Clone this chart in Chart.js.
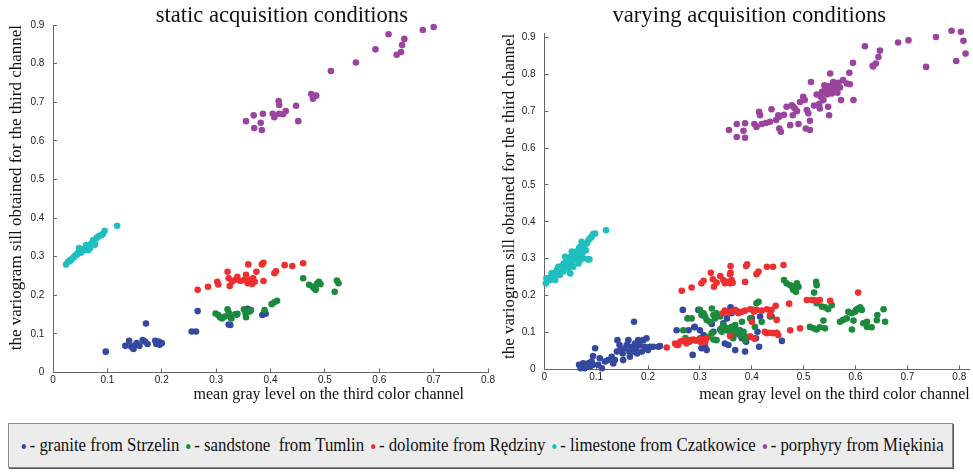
<!DOCTYPE html>
<html>
<head>
<meta charset="utf-8">
<script src="https://cdn.jsdelivr.net/npm/chart.js@4.4.1/dist/chart.umd.min.js"></script>
<style>
  body { margin: 0; background: #fff; width: 973px; height: 475px; position: relative; overflow: hidden; }
  canvas { position: absolute; top: 0; }
  #cLeft { left: 0; }
  #cRight { left: 495px; }
  #legend {
    position: absolute; left: 8px; top: 423px; width: 945px; height: 45px;
    box-sizing: border-box; background: #ececec; border: 1px solid #8a8a8a;
    box-shadow: 1px 1px 0 #555; overflow: hidden;
    font-family: "Liberation Serif", "Times New Roman", Times, "DejaVu Serif", serif;
    font-size: 19px; color: #111; white-space: pre;
  }
  #legend .row { position: absolute; left: 10px; top: 10px; transform-origin: left center; }
  #legend .dot { display: inline-block; width: 5px; height: 5px; border-radius: 50%; margin: 0 4px 0 3px; vertical-align: middle; }
</style>
</head>
<body>
<canvas id="cLeft" width="501" height="410"></canvas>
<canvas id="cRight" width="478" height="410"></canvas>
<div id="legend"><div class="row"></div></div>
<script>
// categorias e cores
const categories = ['granite from Strzelin', 'sandstone  from Tumlin', 'dolomite from Rędziny', 'limestone from Czatkowice', 'porphyry from Miękinia'];
const colors = ['#3548a0', '#1b8a3c', '#ee2f2f', '#20bfbf', '#9b449f'];

const xTicks = [0, 0.1, 0.2, 0.3, 0.4, 0.5, 0.6, 0.7, 0.8];
const yTicks = [0, 0.1, 0.2, 0.3, 0.4, 0.5, 0.6, 0.7, 0.8, 0.9];

// static acquisition conditions: [x, y]
const staticGranite = [[0.097,0.054],[0.133,0.069],[0.140,0.082],[0.144,0.067],[0.148,0.061],[0.150,0.070],[0.154,0.076],[0.159,0.069],[0.165,0.084],[0.169,0.080],[0.171,0.127],[0.174,0.074],[0.188,0.082],[0.190,0.074],[0.194,0.080],[0.196,0.072],[0.198,0.077],[0.200,0.076],[0.255,0.106],[0.263,0.106],[0.266,0.159],[0.323,0.124],[0.326,0.123],[0.338,0.150],[0.358,0.165],[0.385,0.149],[0.389,0.155],[0.391,0.152]];
const staticSandstone = [[0.299,0.153],[0.304,0.149],[0.307,0.143],[0.311,0.140],[0.316,0.145],[0.321,0.164],[0.323,0.155],[0.326,0.146],[0.328,0.140],[0.335,0.151],[0.339,0.152],[0.351,0.164],[0.354,0.153],[0.355,0.143],[0.362,0.158],[0.364,0.162],[0.389,0.162],[0.402,0.177],[0.407,0.182],[0.412,0.186],[0.460,0.244],[0.471,0.227],[0.478,0.222],[0.480,0.218],[0.483,0.224],[0.483,0.214],[0.486,0.231],[0.489,0.235],[0.492,0.229],[0.518,0.209],[0.522,0.238],[0.525,0.231]];
const staticDolomite = [[0.266,0.214],[0.285,0.222],[0.302,0.235],[0.304,0.228],[0.321,0.261],[0.323,0.244],[0.325,0.224],[0.329,0.235],[0.335,0.240],[0.339,0.248],[0.345,0.237],[0.352,0.240],[0.355,0.253],[0.358,0.231],[0.359,0.280],[0.362,0.238],[0.364,0.241],[0.366,0.229],[0.368,0.244],[0.371,0.235],[0.374,0.261],[0.384,0.280],[0.387,0.284],[0.387,0.237],[0.407,0.257],[0.410,0.262],[0.426,0.278],[0.440,0.276],[0.460,0.283]];
const staticLimestone = [[0.024,0.280],[0.028,0.287],[0.030,0.289],[0.033,0.291],[0.036,0.296],[0.039,0.300],[0.042,0.304],[0.044,0.305],[0.045,0.309],[0.048,0.312],[0.048,0.322],[0.051,0.310],[0.052,0.313],[0.055,0.316],[0.057,0.319],[0.058,0.321],[0.061,0.330],[0.062,0.319],[0.065,0.317],[0.066,0.325],[0.068,0.322],[0.070,0.333],[0.072,0.336],[0.074,0.343],[0.076,0.335],[0.077,0.331],[0.080,0.348],[0.083,0.352],[0.086,0.354],[0.089,0.356],[0.092,0.359],[0.095,0.367],[0.118,0.380]];
const staticPorphyry = [[0.355,0.651],[0.369,0.666],[0.370,0.633],[0.386,0.670],[0.382,0.647],[0.384,0.628],[0.404,0.670],[0.407,0.661],[0.415,0.703],[0.416,0.693],[0.416,0.670],[0.423,0.669],[0.428,0.677],[0.447,0.691],[0.451,0.651],[0.475,0.721],[0.478,0.709],[0.480,0.715],[0.484,0.717],[0.511,0.781],[0.557,0.803],[0.593,0.837],[0.617,0.876],[0.632,0.823],[0.640,0.830],[0.642,0.848],[0.646,0.864],[0.680,0.887],[0.700,0.895]];

// varying acquisition conditions: [x, y]
const varyingGranite = [[0.067,0.012],[0.072,0.007],[0.075,0.016],[0.070,0.003],[0.078,0.003],[0.082,0.012],[0.085,0.016],[0.088,0.007],[0.091,0.021],[0.094,0.012],[0.098,0.057],[0.094,0.036],[0.104,0.012],[0.107,0.030],[0.111,0.003],[0.117,0.021],[0.123,0.025],[0.130,0.034],[0.133,0.016],[0.136,0.025],[0.140,0.048],[0.141,0.079],[0.145,0.066],[0.147,0.052],[0.151,0.043],[0.152,0.025],[0.156,0.057],[0.159,0.066],[0.162,0.079],[0.164,0.048],[0.165,0.034],[0.168,0.061],[0.172,0.048],[0.173,0.129],[0.175,0.070],[0.177,0.057],[0.179,0.043],[0.181,0.079],[0.184,0.066],[0.188,0.048],[0.191,0.079],[0.194,0.061],[0.197,0.084],[0.200,0.052],[0.204,0.061],[0.210,0.061],[0.220,0.061],[0.223,0.063],[0.255,0.106],[0.267,0.161],[0.278,0.106],[0.286,0.039],[0.289,0.114],[0.290,0.115],[0.297,0.161],[0.300,0.106],[0.303,0.057],[0.307,0.093],[0.307,0.079],[0.310,0.061],[0.313,0.052],[0.323,0.123],[0.326,0.102],[0.332,0.147],[0.342,0.111],[0.345,0.125],[0.348,0.070],[0.352,0.138],[0.355,0.066],[0.359,0.168],[0.361,0.152],[0.364,0.088],[0.368,0.052],[0.371,0.098],[0.374,0.156],[0.377,0.106],[0.381,0.084],[0.387,0.048],[0.389,0.075],[0.397,0.089],[0.400,0.138],[0.408,0.084],[0.411,0.102],[0.414,0.061],[0.416,0.143],[0.438,0.144],[0.458,0.077]];
const varyingSandstone = [[0.268,0.106],[0.272,0.085],[0.276,0.138],[0.280,0.075],[0.284,0.138],[0.300,0.161],[0.303,0.147],[0.307,0.152],[0.310,0.143],[0.313,0.134],[0.316,0.088],[0.319,0.129],[0.323,0.165],[0.323,0.098],[0.326,0.147],[0.326,0.081],[0.329,0.138],[0.332,0.152],[0.332,0.079],[0.339,0.143],[0.339,0.108],[0.342,0.102],[0.345,0.120],[0.348,0.114],[0.352,0.106],[0.355,0.111],[0.358,0.102],[0.361,0.115],[0.364,0.108],[0.364,0.084],[0.368,0.120],[0.371,0.098],[0.374,0.106],[0.377,0.093],[0.381,0.129],[0.384,0.102],[0.387,0.079],[0.390,0.088],[0.397,0.138],[0.403,0.161],[0.406,0.115],[0.409,0.179],[0.413,0.183],[0.419,0.129],[0.435,0.143],[0.462,0.242],[0.467,0.233],[0.474,0.228],[0.479,0.220],[0.480,0.215],[0.483,0.226],[0.485,0.210],[0.487,0.233],[0.490,0.224],[0.512,0.115],[0.519,0.111],[0.519,0.188],[0.520,0.208],[0.524,0.237],[0.525,0.228],[0.525,0.179],[0.525,0.108],[0.531,0.114],[0.535,0.170],[0.538,0.132],[0.541,0.168],[0.541,0.111],[0.547,0.163],[0.554,0.174],[0.570,0.129],[0.576,0.134],[0.583,0.138],[0.586,0.156],[0.593,0.152],[0.593,0.108],[0.596,0.132],[0.599,0.156],[0.601,0.161],[0.605,0.165],[0.609,0.168],[0.612,0.161],[0.615,0.125],[0.622,0.129],[0.622,0.115],[0.631,0.114],[0.641,0.133],[0.642,0.147],[0.654,0.163],[0.657,0.129]];
const varyingDolomite = [[0.236,0.059],[0.252,0.070],[0.255,0.066],[0.258,0.066],[0.262,0.075],[0.265,0.213],[0.268,0.078],[0.271,0.079],[0.274,0.075],[0.274,0.070],[0.278,0.078],[0.281,0.079],[0.284,0.222],[0.287,0.081],[0.291,0.078],[0.294,0.078],[0.297,0.079],[0.300,0.084],[0.303,0.072],[0.303,0.233],[0.307,0.079],[0.307,0.240],[0.310,0.075],[0.313,0.084],[0.321,0.262],[0.325,0.244],[0.327,0.224],[0.332,0.235],[0.339,0.253],[0.344,0.152],[0.345,0.242],[0.348,0.233],[0.348,0.159],[0.353,0.237],[0.353,0.156],[0.358,0.258],[0.358,0.233],[0.358,0.090],[0.359,0.280],[0.359,0.262],[0.361,0.242],[0.361,0.156],[0.363,0.235],[0.368,0.161],[0.374,0.152],[0.381,0.156],[0.387,0.237],[0.387,0.159],[0.389,0.280],[0.391,0.285],[0.397,0.163],[0.397,0.088],[0.400,0.129],[0.404,0.156],[0.405,0.083],[0.409,0.258],[0.409,0.161],[0.413,0.265],[0.419,0.159],[0.425,0.102],[0.429,0.278],[0.429,0.163],[0.429,0.098],[0.435,0.147],[0.435,0.099],[0.438,0.161],[0.441,0.278],[0.441,0.098],[0.446,0.172],[0.448,0.134],[0.448,0.099],[0.451,0.093],[0.461,0.283],[0.472,0.178],[0.474,0.106],[0.493,0.111],[0.506,0.188],[0.515,0.188],[0.525,0.186],[0.531,0.188],[0.551,0.186],[0.605,0.208]];
const varyingLimestone = [[0.003,0.233],[0.004,0.247],[0.008,0.247],[0.011,0.242],[0.014,0.251],[0.014,0.260],[0.017,0.260],[0.021,0.256],[0.021,0.242],[0.024,0.269],[0.027,0.265],[0.027,0.278],[0.030,0.278],[0.030,0.256],[0.034,0.274],[0.037,0.287],[0.037,0.265],[0.038,0.269],[0.040,0.305],[0.042,0.292],[0.043,0.278],[0.046,0.296],[0.046,0.274],[0.048,0.283],[0.050,0.260],[0.051,0.305],[0.053,0.289],[0.053,0.319],[0.056,0.314],[0.056,0.296],[0.056,0.278],[0.059,0.301],[0.062,0.319],[0.062,0.298],[0.066,0.310],[0.066,0.287],[0.067,0.328],[0.069,0.296],[0.069,0.332],[0.072,0.305],[0.072,0.346],[0.074,0.332],[0.075,0.319],[0.075,0.301],[0.078,0.337],[0.080,0.323],[0.082,0.341],[0.084,0.298],[0.085,0.350],[0.087,0.298],[0.088,0.355],[0.091,0.359],[0.094,0.367],[0.098,0.368],[0.119,0.377]];
const varyingPorphyry = [[0.356,0.649],[0.371,0.665],[0.371,0.630],[0.384,0.647],[0.387,0.667],[0.387,0.628],[0.405,0.665],[0.409,0.657],[0.414,0.698],[0.416,0.689],[0.419,0.665],[0.427,0.668],[0.435,0.671],[0.438,0.705],[0.447,0.676],[0.451,0.689],[0.453,0.653],[0.456,0.644],[0.453,0.685],[0.462,0.690],[0.467,0.712],[0.474,0.662],[0.477,0.716],[0.480,0.712],[0.479,0.689],[0.483,0.707],[0.487,0.700],[0.490,0.665],[0.493,0.725],[0.499,0.739],[0.502,0.730],[0.506,0.703],[0.504,0.653],[0.509,0.694],[0.512,0.674],[0.512,0.649],[0.514,0.779],[0.520,0.715],[0.525,0.745],[0.530,0.720],[0.531,0.707],[0.533,0.739],[0.535,0.752],[0.538,0.730],[0.540,0.770],[0.541,0.762],[0.544,0.757],[0.545,0.745],[0.547,0.712],[0.548,0.768],[0.549,0.689],[0.551,0.802],[0.552,0.760],[0.554,0.748],[0.556,0.770],[0.557,0.779],[0.558,0.755],[0.560,0.764],[0.564,0.757],[0.565,0.750],[0.567,0.777],[0.570,0.764],[0.572,0.730],[0.576,0.784],[0.583,0.775],[0.588,0.804],[0.589,0.773],[0.595,0.831],[0.596,0.730],[0.618,0.876],[0.633,0.823],[0.634,0.821],[0.639,0.829],[0.644,0.847],[0.647,0.864],[0.682,0.886],[0.702,0.892],[0.736,0.927],[0.755,0.926],[0.755,0.901],[0.736,0.820],[0.770,0.930],[0.777,0.936],[0.780,0.925],[0.782,0.931],[0.788,0.924],[0.785,0.918],[0.790,0.928],[0.795,0.933],[0.805,0.936],[0.811,0.933],[0.803,0.915],[0.808,0.891],[0.812,0.856],[0.794,0.836]];

Chart.defaults.font.family = "'Liberation Sans', Arial, sans-serif";

const axisColor = '#666';
const tickFont = { family: "'Liberation Sans', Arial, sans-serif", size: 10 };
const serif = "'Liberation Serif', 'Times New Roman', serif";

function desenhaPainel(id, series, cfg) {
  return new Chart(document.getElementById(id), {
    type: 'scatter',
    data: {
      datasets: series.map((pts, i) => ({
        label: categories[i],
        data: pts.map(p => ({ x: p[0], y: p[1] })),
        backgroundColor: colors[i],
        borderWidth: 0,
        pointRadius: 3.3,
        pointHoverRadius: 3.3,
        order: series.length - i,
        clip: false
      }))
    },
    options: {
      responsive: false,
      animation: false,
      events: [],
      layout: { padding: { left: 0, right: cfg.padRight, top: 0, bottom: 0 } },
      plugins: {
        legend: { display: false },
        tooltip: { enabled: false },
        title: {
          display: true, text: cfg.title, fullSize: cfg.titleFull, color: '#111',
          font: { family: serif, size: 22.6, weight: 'normal', lineHeight: 1 },
          padding: { top: 4.4, bottom: cfg.titleBottom }
        }
      },
      scales: {
        x: {
          type: 'linear', min: 0, max: cfg.xMax,
          afterBuildTicks: s => { s.ticks = xTicks.map(v => ({ value: v })); },
          afterFit: s => { s.height = cfg.xHeight; },
          grid: { drawOnChartArea: false, tickLength: -4, color: axisColor },
          border: { color: axisColor },
          ticks: { padding: 6, color: '#222', font: tickFont, maxRotation: 0, autoSkip: false },
          title: {
            display: true, text: cfg.xTitle, align: 'end', color: '#111',
            font: { family: serif, size: 16, lineHeight: 1 },
            padding: { top: 0, bottom: 7.4 }
          }
        },
        y: {
          type: 'linear', min: 0, max: cfg.yMax,
          afterBuildTicks: s => { s.ticks = yTicks.map(v => ({ value: v })); },
          afterFit: s => { s.width = cfg.yWidth; },
          grid: { drawOnChartArea: false, tickLength: -4, color: axisColor },
          border: { color: axisColor },
          ticks: { padding: 12.7, color: '#222', font: tickFont, autoSkip: false },
          title: {
            display: true, text: 'the variogram sill obtained for the third channel', align: 'end', color: '#111',
            font: { family: serif, size: 17, lineHeight: 1 },
            padding: { top: cfg.yTitlePad, bottom: 0 }
          }
        }
      }
    }
  });
}

desenhaPainel('cLeft',
  [staticGranite, staticSandstone, staticDolomite, staticLimestone, staticPorphyry],
  { title: '\u2002\u2002static acquisition conditions', titleFull: false, titleBottom: -2,
    xTitle: 'mean gray level on the third color channel\u2002\u2002\u2002',
    xMax: 0.8, yMax: 0.9, xHeight: 37.5, yWidth: 53, padRight: 8, yTitlePad: 8.5 });

desenhaPainel('cRight',
  [varyingGranite, varyingSandstone, varyingDolomite, varyingLimestone, varyingPorphyry],
  { title: '\u2002\u2002\u2002varying acquisition conditions', titleFull: true, titleBottom: 6.7,
    xTitle: 'mean gray level on the third color channel',
    xMax: 0.82, yMax: 0.91, xHeight: 40.7, yWidth: 49.3, padRight: 3.3, yTitlePad: 6.5 });

// legenda em HTML
const row = document.querySelector('#legend .row');
row.innerHTML = categories.map((c, i) =>
  '<span class="dot" style="background:' + colors[i] + '"></span>- ' + c
).join(' ');
const ajusta = () => {
  row.style.transform = 'none';
  const w = row.scrollWidth;
  row.style.transform = 'scaleX(' + (925 / w) + ')';
};
ajusta();
if (document.fonts) document.fonts.ready.then(ajusta);
</script>
</body>
</html>
